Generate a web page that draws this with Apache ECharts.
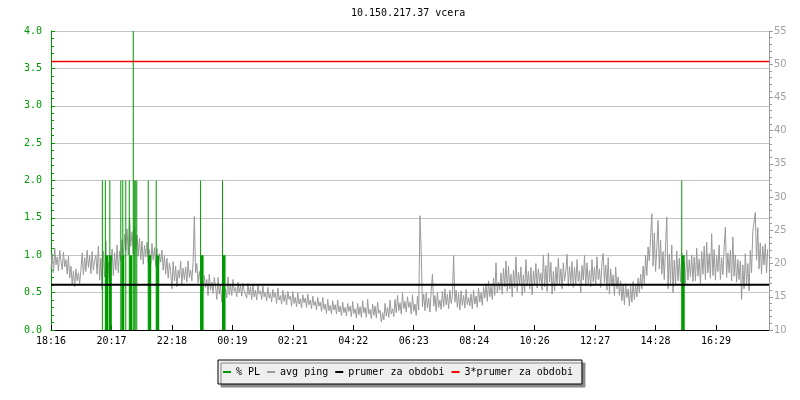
<!DOCTYPE html>
<html>
<head>
<meta charset="utf-8">
<script src="https://cdn.jsdelivr.net/npm/echarts@6/dist/echarts.min.js"></script>
<style>html,body{margin:0;padding:0;background:#fff}#c{width:800px;height:400px}</style>
</head>
<body>
<div id="c"></div>
<script>
// x axis: minutes since 18:16 (one day)
const tickLabels = ['18:16','20:17','22:18','00:19','02:21','04:22','06:23','08:24','10:26','12:27','14:28','16:29'];
const tickStep = 121.25;
const spanMinutes = 1440;
const pingStep = 2.5;

// avg ping (ms), one value every 2.5 minutes from 18:16 (12 values = 30 min per row)
const pingValues = [
  19.2, 21.5, 18.6, 22.3, 19.8, 21.0, 18.9, 22.0, 20.4, 19.1, 21.7, 19.5,
  20.6, 18.4, 21.1, 17.8, 19.6, 16.8, 18.9, 16.5, 19.2, 17.4, 18.6, 17.0,
  19.0, 21.6, 18.3, 20.9, 18.8, 22.0, 19.4, 21.2, 18.5, 21.8, 19.0, 20.5,
  21.3, 18.4, 22.6, 17.5, 20.8, 16.1, 21.9, 18.0, 23.4, 17.2, 20.2, 16.6,
  19.4, 22.2, 18.2, 21.6, 19.0, 22.8, 18.6, 21.9, 20.4, 23.6, 19.8, 24.4,
  22.0, 25.2, 21.3, 26.9, 22.6, 24.8, 21.5, 25.6, 22.2, 24.3, 21.1, 23.8,
  20.6, 23.4, 19.9, 22.7, 21.0, 23.2, 20.2, 22.1, 19.8, 23.0, 20.5, 22.4,
  19.6, 22.3, 19.1, 21.5, 20.2, 22.0, 19.0, 21.2, 18.4, 20.8, 17.8, 20.1,
  18.8, 16.2, 20.3, 17.4, 19.6, 16.5, 19.0, 17.8, 20.4, 16.9, 19.3, 17.6,
  19.5, 17.2, 20.4, 17.9, 19.0, 17.4, 20.2, 27.1, 18.6, 20.0, 17.1, 18.8,
  17.0, 18.9, 15.8, 18.2, 16.4, 17.6, 15.2, 18.4, 16.0, 17.2, 15.5, 17.9,
  16.6, 14.6, 17.9, 15.4, 16.8, 14.2, 17.3, 15.7, 16.2, 14.8, 18.0, 15.3,
  16.9, 15.2, 17.6, 15.8, 16.4, 15.0, 17.2, 15.6, 16.7, 15.1, 17.0, 15.9,
  16.2, 14.8, 17.0, 15.3, 16.5, 14.6, 16.9, 15.0, 16.0, 14.5, 16.8, 15.4,
  15.9, 14.6, 16.6, 15.0, 15.7, 14.4, 16.4, 14.8, 15.5, 14.2, 16.1, 14.9,
  15.6, 14.0, 16.3, 14.5, 15.2, 13.9, 16.0, 14.3, 15.4, 13.8, 15.8, 14.6,
  15.1, 13.6, 15.8, 14.0, 14.9, 13.5, 15.6, 13.9, 14.7, 13.3, 15.3, 14.1,
  14.8, 13.4, 15.4, 13.8, 14.5, 13.2, 15.1, 13.7, 14.3, 13.0, 14.9, 13.6,
  14.2, 12.8, 14.9, 13.1, 13.9, 12.5, 14.6, 12.9, 13.7, 12.4, 14.4, 13.0,
  13.8, 12.4, 14.5, 12.7, 13.6, 12.2, 14.2, 12.6, 13.4, 12.1, 14.0, 12.8,
  13.6, 12.0, 14.3, 12.5, 13.2, 11.8, 14.0, 12.3, 13.5, 11.9, 14.4, 12.6,
  13.4, 11.9, 14.6, 12.4, 13.1, 11.7, 13.9, 12.2, 13.6, 11.8, 14.2, 12.5,
  13.0, 11.2, 12.6, 11.5, 14.0, 12.1, 13.4, 11.9, 14.5, 12.4, 13.2, 12.0,
  14.6, 12.6, 15.2, 12.9, 14.1, 12.4, 15.6, 13.2, 14.3, 12.7, 15.0, 13.4,
  14.2, 12.4, 15.3, 12.8, 13.9, 12.2, 15.1, 13.0, 27.2, 21.6, 13.5, 15.4,
  12.9, 15.6, 13.3, 14.8, 12.7, 15.9, 18.4, 13.6, 15.2, 12.8, 15.7, 13.4,
  14.5, 13.1, 15.8, 13.5, 16.2, 13.8, 15.4, 13.2, 16.0, 14.0, 15.1, 21.2,
  14.2, 16.0, 13.4, 15.5, 13.0, 15.9, 13.7, 15.2, 13.3, 16.1, 13.8, 14.9,
  13.6, 15.4, 13.2, 16.0, 13.9, 15.1, 13.4, 16.3, 14.2, 15.6, 13.7, 16.5,
  14.8, 16.9, 14.3, 17.4, 15.0, 16.6, 14.6, 17.8, 15.2, 20.1, 15.6, 17.2,
  16.0, 18.6, 15.4, 19.3, 16.5, 20.4, 15.8, 19.6, 16.2, 18.4, 15.0, 19.0,
  16.4, 21.0, 15.8, 18.7, 16.9, 19.5, 15.2, 18.3, 15.7, 20.6, 16.6, 18.8,
  16.2, 19.4, 15.3, 18.9, 16.8, 20.0, 16.3, 19.2, 17.1, 18.6, 16.0, 21.3,
  16.5, 19.7, 15.8, 21.6, 17.2, 20.2, 15.4, 18.8, 15.9, 19.5, 16.7, 20.8,
  16.9, 19.2, 16.2, 20.1, 17.4, 18.8, 21.4, 16.6, 19.6, 17.0, 20.3, 16.4,
  19.4, 16.8, 20.6, 17.3, 18.9, 15.6, 19.7, 17.5, 21.2, 16.6, 20.1, 17.0,
  19.0, 16.5, 20.6, 17.2, 19.4, 16.8, 21.0, 17.6, 19.2, 16.4, 20.2, 21.5,
  17.1, 19.8, 16.0, 20.9, 15.4, 19.2, 16.6, 18.3, 15.2, 19.5, 16.2, 18.0,
  15.2, 17.4, 14.4, 16.8, 13.8, 17.0, 14.9, 16.2, 13.6, 16.6, 14.2, 17.3,
  14.6, 16.9, 15.0, 17.8, 15.6, 18.4, 16.2, 19.6, 17.0, 21.2, 18.2, 22.5,
  20.4, 23.8, 27.5, 19.6, 24.6, 18.8, 22.4, 26.5, 19.2, 23.5, 18.4, 21.8,
  17.6, 22.6, 27.0, 16.2, 21.4, 17.0, 22.8, 15.6, 20.5, 16.8, 21.9, 17.4,
  20.8, 17.2, 21.6, 17.8, 20.2, 16.9, 22.0, 17.5, 20.6, 18.0, 21.3, 17.3,
  21.0, 17.4, 22.3, 18.1, 20.7, 17.0, 21.8, 18.4, 22.6, 17.6, 23.2, 18.6,
  21.5, 17.8, 24.5, 18.2, 22.1, 17.5, 21.2, 18.8, 22.8, 17.6, 20.9, 18.3,
  22.4, 25.5, 17.9, 21.6, 18.6, 22.0, 17.4, 24.0, 18.1, 21.3, 17.2, 20.6,
  17.6, 20.4, 14.6, 19.8, 16.2, 21.5, 16.8, 20.0, 15.9, 22.0, 18.6, 24.8,
  26.2, 27.7, 20.5, 25.4, 19.2, 23.1, 18.4, 22.6, 19.8, 23.0, 18.6, 22.2
];

// packet loss (%) spikes: minute offset and value
const plTimes  = [105, 111, 120, 142, 146, 152, 159, 167, 169, 171, 174, 197, 213, 302, 346, 1267];
const plValues = [2,   2,   2,   2,   2,   2,   2,   4,   2,   2,   2,   2,   2,   2,   2,   2];
const plLowTimes  = [112, 119, 144, 160, 198, 214, 303, 347, 1268];
const plLowValues = [1,   1,   1,   1,   1,   1,   1,   1,   1];

const avgPing = [16.8];
const avgPing3 = [50.41];

const mono = 'DejaVu Sans Mono';
const green = '#009900';
const gray = '#9a9a9a';

const pingData = pingValues.map((v, i) => [i * pingStep, v]);
const plData = plTimes.map((t, i) => [t, plValues[i]]);
const plLowData = plLowTimes.map((t, i) => [t, plLowValues[i]]);

const chart = echarts.init(document.getElementById('c'), null, {renderer: 'canvas'});
chart.setOption({
  animation: false,
  backgroundColor: '#fff',
  title: {
    text: '10.150.217.37 vcera',
    left: 346, top: 3,
    textStyle: {fontFamily: mono, fontSize: 10, fontWeight: 'normal', color: '#000'}
  },
  grid: {left: 51, right: 31, top: 31, bottom: 70},
  legend: {
    left: 218, top: 360,
    data: ['% PL', 'avg ping', 'prumer za obdobi', '3*prumer za obdobi'],
    icon: 'rect', itemWidth: 8, itemHeight: 2, itemGap: 7,
    padding: [7, 9, 7, 5],
    backgroundColor: '#eeeeee', borderColor: '#000', borderWidth: 1,
    shadowColor: '#888', shadowOffsetX: 3, shadowOffsetY: 3, shadowBlur: 0,
    textStyle: {fontFamily: mono, fontSize: 10, color: '#000'}
  },
  xAxis: {
    type: 'value', min: 0, max: spanMinutes, interval: tickStep,
    axisLine: {lineStyle: {color: '#000', width: 1}},
    axisTick: {inside: true, length: 5, lineStyle: {color: '#000'}},
    axisLabel: {
      margin: 6, fontFamily: mono, fontSize: 10, color: '#000', showMaxLabel: false,
      formatter: v => tickLabels[Math.round(v / tickStep)] || ''
    },
    splitLine: {show: false}
  },
  yAxis: [
    {
      type: 'value', min: 0, max: 4, interval: 0.5, position: 'left',
      axisLine: {show: true, lineStyle: {color: green}},
      axisTick: {show: true, inside: true, length: 4, lineStyle: {color: green}},
      minorTick: {show: true, splitNumber: 5, length: 3, lineStyle: {color: green}},
      axisLabel: {margin: 9, fontFamily: mono, fontSize: 10, color: green, formatter: v => v.toFixed(1)},
      splitLine: {show: true, lineStyle: {color: '#c4c4c4', width: 1}}
    },
    {
      type: 'value', min: 10, max: 55, interval: 5, position: 'right',
      axisLine: {show: true, lineStyle: {color: gray}},
      axisTick: {show: true, inside: false, length: 4, lineStyle: {color: gray}},
      minorTick: {show: true, splitNumber: 5, length: 3, lineStyle: {color: gray}},
      axisLabel: {margin: 5, fontFamily: 'DejaVu Sans', fontSize: 10, color: '#a0a0a0'},
      splitLine: {show: false}
    }
  ],
  series: [
    {
      name: 'avg ping', type: 'line', yAxisIndex: 1, data: pingData,
      showSymbol: false, symbol: 'none', lineStyle: {color: gray, width: 1}, itemStyle: {color: gray}, z: 2
    },
    {
      name: '% PL', type: 'bar', yAxisIndex: 0, data: plData,
      barWidth: 1, barGap: '-100%', itemStyle: {color: green}, z: 3
    },
    {
      name: '% PL', type: 'bar', yAxisIndex: 0, data: plLowData,
      barWidth: 3, barGap: '-100%', itemStyle: {color: green}, z: 3
    },
    {
      name: 'prumer za obdobi', type: 'line', yAxisIndex: 1,
      data: [[0, avgPing[0]], [spanMinutes, avgPing[0]]],
      showSymbol: false, symbol: 'none', lineStyle: {color: '#000', width: 2}, itemStyle: {color: '#000'}, z: 4
    },
    {
      name: '3*prumer za obdobi', type: 'line', yAxisIndex: 1,
      data: [[0, avgPing3[0]], [spanMinutes, avgPing3[0]]],
      showSymbol: false, symbol: 'none', lineStyle: {color: '#ee0000', width: 1.6}, itemStyle: {color: '#ff0000'}, z: 4
    }
  ]
});
</script>
</body>
</html>
